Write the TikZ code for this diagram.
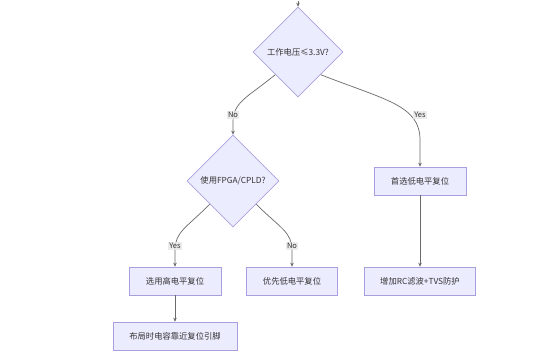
\documentclass[tikz,border=0pt]{standalone}
\usepackage{fontspec}
\setmainfont{Noto Sans CJK SC}
\usetikzlibrary{shapes.geometric,arrows.meta}
\definecolor{nodefill}{HTML}{ECECFF}
\definecolor{nodeline}{HTML}{AA9FDE}
\definecolor{edgecol}{HTML}{6A6A6A}
\definecolor{txt}{HTML}{333333}
\definecolor{lblbg}{HTML}{E8E8E8}
\begin{document}
\begin{tikzpicture}[x=1pt,y=-1pt,
  every node/.style={font=\fontsize{8.3}{10}\selectfont, text=txt},
  decision/.style={diamond, aspect=1, draw=nodeline, fill=nodefill, line width=0.6pt, inner sep=0pt, minimum width=#1, minimum height=#1},
  procbox/.style={rectangle, draw=nodeline, fill=nodefill, line width=0.6pt, inner sep=0pt, minimum width=#1, minimum height=28pt},
  edgelbl/.style={fill=lblbg, fill opacity=0.85, text opacity=1, inner sep=1.2pt, font=\fontsize{7.5}{9}\selectfont},
  flow/.style={draw=edgecol, line width=0.7pt, -{Stealth[length=4pt,width=3.5pt]}}
]
\useasboundingbox (0,0) rectangle (547,362);
\fill[white] (0,0) rectangle (547,362);

\coordinate (start) at (298,1);
\node[decision=90pt] (d1) at (298,52) {工作电压≤3.3V?};
\node[decision=92pt] (d2) at (233,181) {使用FPGA/CPLD?};
\node[procbox=92pt] (b1) at (420,181) {首选低电平复位};
\node[procbox=111pt] (b5) at (420,281) {增加RC滤波+TVS防护};
\node[procbox=92pt] (b2) at (175,281) {选用高电平复位};
\node[procbox=91pt] (b3) at (292,281) {优先低电平复位};
\node[procbox=124pt] (b4) at (175,336) {布局时电容靠近复位引脚};

\draw[flow] (start) -- (d1.north);
\draw[flow] (d1.south west) .. controls (248,97) and (233,102) .. (233,122) -- (d2.north);
\draw[flow] (d1.south east) .. controls (385,100) and (420,105) .. (420,140) -- (b1.north);
\draw[flow] (d2.south west) .. controls (186,228) and (175,232) .. (175,250) -- (b2.north);
\draw[flow] (d2.south east) .. controls (280,228) and (292,232) .. (292,250) -- (b3.north);
\draw[flow] (b2) -- (b4);
\draw[flow] (b1) -- (b5);

\node[edgelbl] (lno1) at (233,115) {No};
\node[edgelbl] (lyes1) at (420,115) {Yes};
\node[edgelbl] (lyes2) at (175,246) {Yes};
\node[edgelbl] (lno2) at (292,246) {No};
\end{tikzpicture}
\end{document}
